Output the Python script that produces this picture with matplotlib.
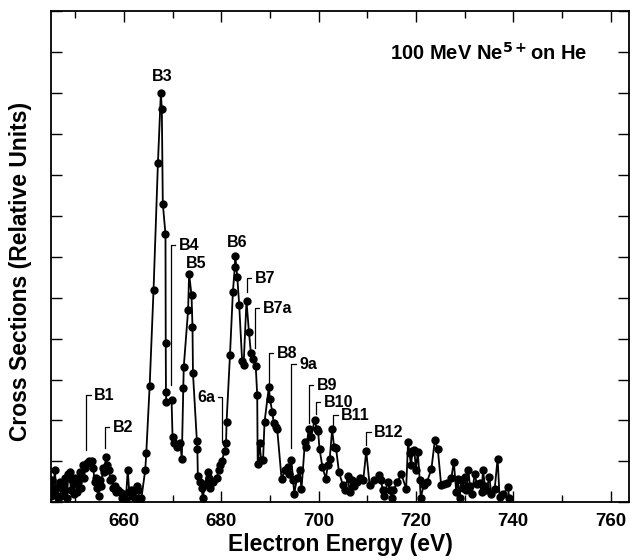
import numpy as np
import matplotlib.pyplot as plt
from matplotlib.ticker import MultipleLocator, NullFormatter

plt.rcParams['font.family'] = ['Liberation Sans', 'DejaVu Sans']
plt.rcParams['font.weight'] = 'bold'
plt.rcParams['mathtext.default'] = 'bf'

# electron energy (eV) and cross section (relative units)
energy = [
    645.0, 645.3, 645.5, 645.8, 646.1, 646.4, 646.8, 647.1, 647.4, 647.7,
    648.0, 648.3, 648.6, 648.9, 649.1, 649.4, 649.7, 650.0, 650.3, 650.6,
    650.9, 651.2, 651.5, 651.8, 652.1, 652.4, 652.8, 653.1, 653.4, 653.7,
    654.0, 654.2, 654.5, 654.8, 655.1, 655.4, 655.7, 656.0, 656.3, 656.6,
    656.9, 657.2, 657.5, 657.8, 658.1, 658.4, 658.8, 659.2, 659.6, 660.0,
    660.4, 660.8, 661.1, 661.4, 661.7, 662.0, 662.3, 662.6, 662.9, 663.2,
    663.6, 664.4, 664.6, 665.3, 666.1, 667.0, 667.6, 667.8, 668.0, 668.55,
    668.6, 668.65, 668.7, 669.8, 670.0, 670.4, 671.0, 671.6, 671.9, 672.2,
    672.3, 673.2, 673.4, 673.9, 674.1, 674.2, 675.0, 675.1, 675.2, 675.7,
    676.0, 676.2, 676.7, 677.2, 677.5, 677.8, 678.3, 679.1, 679.5, 679.8,
    680.1, 680.7, 681.0, 681.1, 681.8, 682.4, 682.8, 682.9, 683.3, 683.7,
    684.3, 684.6, 685.2, 685.7, 686.1, 686.6, 687.1, 687.4, 687.5, 687.9,
    688.2, 688.6, 688.9, 689.8, 690.0, 690.5, 690.8, 691.2, 691.5, 692.4,
    693.1, 693.7, 694.0, 694.4, 694.8, 695.0, 695.6, 696.1, 696.5, 697.2,
    697.5, 698.0, 698.5, 699.2, 699.6, 699.9, 700.2, 700.8, 701.5, 701.9,
    702.3, 702.8, 703.2, 703.6, 704.2, 705.0, 705.5, 706.0, 706.4, 706.8,
    707.3, 708.0, 708.6, 709.2, 709.8, 710.5, 711.5, 712.4, 712.8, 713.2,
    713.5, 714.2, 714.7, 715.0, 715.4, 716.2, 717.0, 718.0, 718.4, 718.7,
    719.0, 719.3, 719.7, 720.0, 720.4, 720.8, 721.0, 721.6, 722.3, 723.2,
    723.9, 724.5, 725.2, 725.8, 726.5, 727.3, 727.8, 728.3, 728.6, 729.0,
    729.3, 729.7, 730.0, 730.4, 730.8, 731.1, 731.5, 732.1, 732.5, 733.1,
    733.5, 733.8, 734.2, 734.5, 735.1, 735.5, 736.2, 736.8, 737.2, 738.0,
    738.9, 739.2,
]
cross_section = [
    0.15, 0.55, 0.20, 0.78, 0.35, 0.10, 0.50, 0.15, 0.45, 0.25,
    0.60, 0.10, 0.70, 0.75, 0.30, 0.55, 0.20, 0.60, 0.25, 0.50,
    0.75, 0.35, 0.90, 0.60, 0.85, 0.95, 1.00, 0.98, 1.00, 0.85,
    0.50, 0.60, 0.35, 0.15, 0.55, 0.40, 0.85, 0.75, 1.10, 0.90,
    0.80, 0.55, 0.60, 0.35, 0.40, 0.25, 0.30, 0.25, 0.10, 0.20,
    0.05, 0.80, 0.25, 0.30, 0.15, 0.30, 0.10, 0.40, 0.30, 0.05,
    0.10, 0.80, 1.20, 2.85, 5.20, 8.30, 10.00, 9.60, 7.30, 6.55,
    3.90, 2.70, 2.45, 2.50, 1.60, 1.45, 1.35, 1.45, 1.05, 2.80,
    3.30, 4.70, 5.59, 5.06, 4.29, 3.15, 1.50, 1.30, 0.65, 0.50,
    0.35, 0.10, 0.45, 0.75, 0.60, 0.35, 0.50, 0.60, 0.80, 0.90,
    1.00, 1.25, 1.45, 1.96, 3.59, 5.14, 5.75, 6.01, 5.51, 4.82,
    3.45, 3.36, 4.92, 4.16, 3.65, 3.49, 3.32, 2.62, 0.93, 1.44,
    1.03, 1.03, 1.96, 2.82, 2.53, 2.21, 1.93, 1.85, 1.80, 0.58,
    0.78, 0.86, 0.70, 1.03, 0.54, 0.21, 0.60, 0.79, 0.33, 1.47,
    1.35, 1.80, 1.60, 2.02, 1.80, 1.75, 1.31, 0.86, 0.58, 0.90,
    1.07, 1.78, 1.35, 1.32, 0.74, 0.42, 0.30, 0.64, 0.25, 0.54,
    0.40, 0.49, 0.60, 0.55, 1.25, 0.42, 0.54, 0.66, 0.55, 0.30,
    0.15, 0.50, 0.30, 0.10, 0.30, 0.50, 0.70, 0.33, 1.47, 1.20,
    0.90, 1.25, 1.27, 0.80, 1.23, 0.54, 0.10, 0.42, 0.50, 0.82,
    1.52, 1.31, 0.42, 0.45, 0.47, 0.60, 0.99, 0.25, 0.58, 0.10,
    0.54, 0.35, 0.62, 0.30, 0.78, 0.40, 0.20, 0.70, 0.45, 0.46,
    0.25, 0.78, 0.40, 0.29, 0.62, 0.20, 0.33, 1.07, 0.13, 0.20,
    0.37, 0.10,
]

# peak labels with a leader line: (energy, line bottom, line top, text)
leader_labels = [
    (652.3, 1.27, 2.62, "B1"),
    (656.1, 1.32, 1.84, "B2"),
    (669.6, 2.86, 6.28, "B4"),
    (685.3, 5.14, 5.47, "B7"),
    (686.9, 3.77, 4.74, "B7a"),
    (689.8, 2.90, 3.64, "B8"),
    (694.4, 1.32, 3.37, "9a"),
    (698.0, 1.93, 2.86, "B9"),
    (699.4, 2.17, 2.45, "B10"),
    (703.0, 1.88, 2.13, "B11"),
    (709.8, 1.39, 1.71, "B12"),
]
# labels without leader line
plain_labels = [
    (667.9, 10.41, "B3"),
    (683.2, 6.34, "B6"),
    (674.8, 5.84, "B5"),
]

fig = plt.figure(figsize=(6.36, 5.6), dpi=100)
ax = fig.add_axes([0.080, 0.103, 0.909, 0.877])

ax.plot(energy, cross_section, color='black', lw=1.3, marker='o',
        markersize=5, markerfacecolor='black', markeredgecolor='black')

for x, y0, y1, txt in leader_labels:
    ax.plot([x, x, x + 0.9], [y0, y1, y1], color='black', lw=0.9)
    ax.text(x + 1.6, y1, txt, ha='left', va='center', fontsize=11.5, fontweight='bold')

# 6a has its leader pointing the other way
ax.plot([680.2, 680.2, 679.3], [1.47, 2.57, 2.57], color='black', lw=0.9)
ax.text(678.9, 2.57, "6a", ha='right', va='center', fontsize=11.5, fontweight='bold')

for x, y, txt in plain_labels:
    ax.text(x, y, txt, ha='center', va='center', fontsize=11.5, fontweight='bold')

ax.text(0.587, 0.915, r"100 MeV Ne$^{5+}$on He", transform=ax.transAxes,
        ha='left', va='center', fontsize=14.5, fontweight='bold')

ax.set_xlim(645, 763.8)
ax.set_ylim(0, 12)
ax.xaxis.set_major_locator(MultipleLocator(20))
ax.xaxis.set_minor_locator(MultipleLocator(10))
ax.yaxis.set_major_locator(MultipleLocator(1))
ax.yaxis.set_major_formatter(NullFormatter())
ax.tick_params(which='major', direction='in', length=8, width=1, top=True, right=True,
               labelsize=13.5, pad=8)
ax.tick_params(which='minor', direction='in', length=5, width=1, top=True)
for lab in ax.get_xticklabels():
    lab.set_fontweight('bold')
for s in ax.spines.values():
    s.set_linewidth(1.3)

ax.set_xlabel("Electron Energy (eV)", fontsize=16.5, fontweight='bold', labelpad=2)
ax.set_ylabel("Cross Sections (Relative Units)", fontsize=16.5, fontweight='bold')
ax.yaxis.set_label_coords(-0.033, 0.47)

plt.savefig("out.png", dpi=100)
